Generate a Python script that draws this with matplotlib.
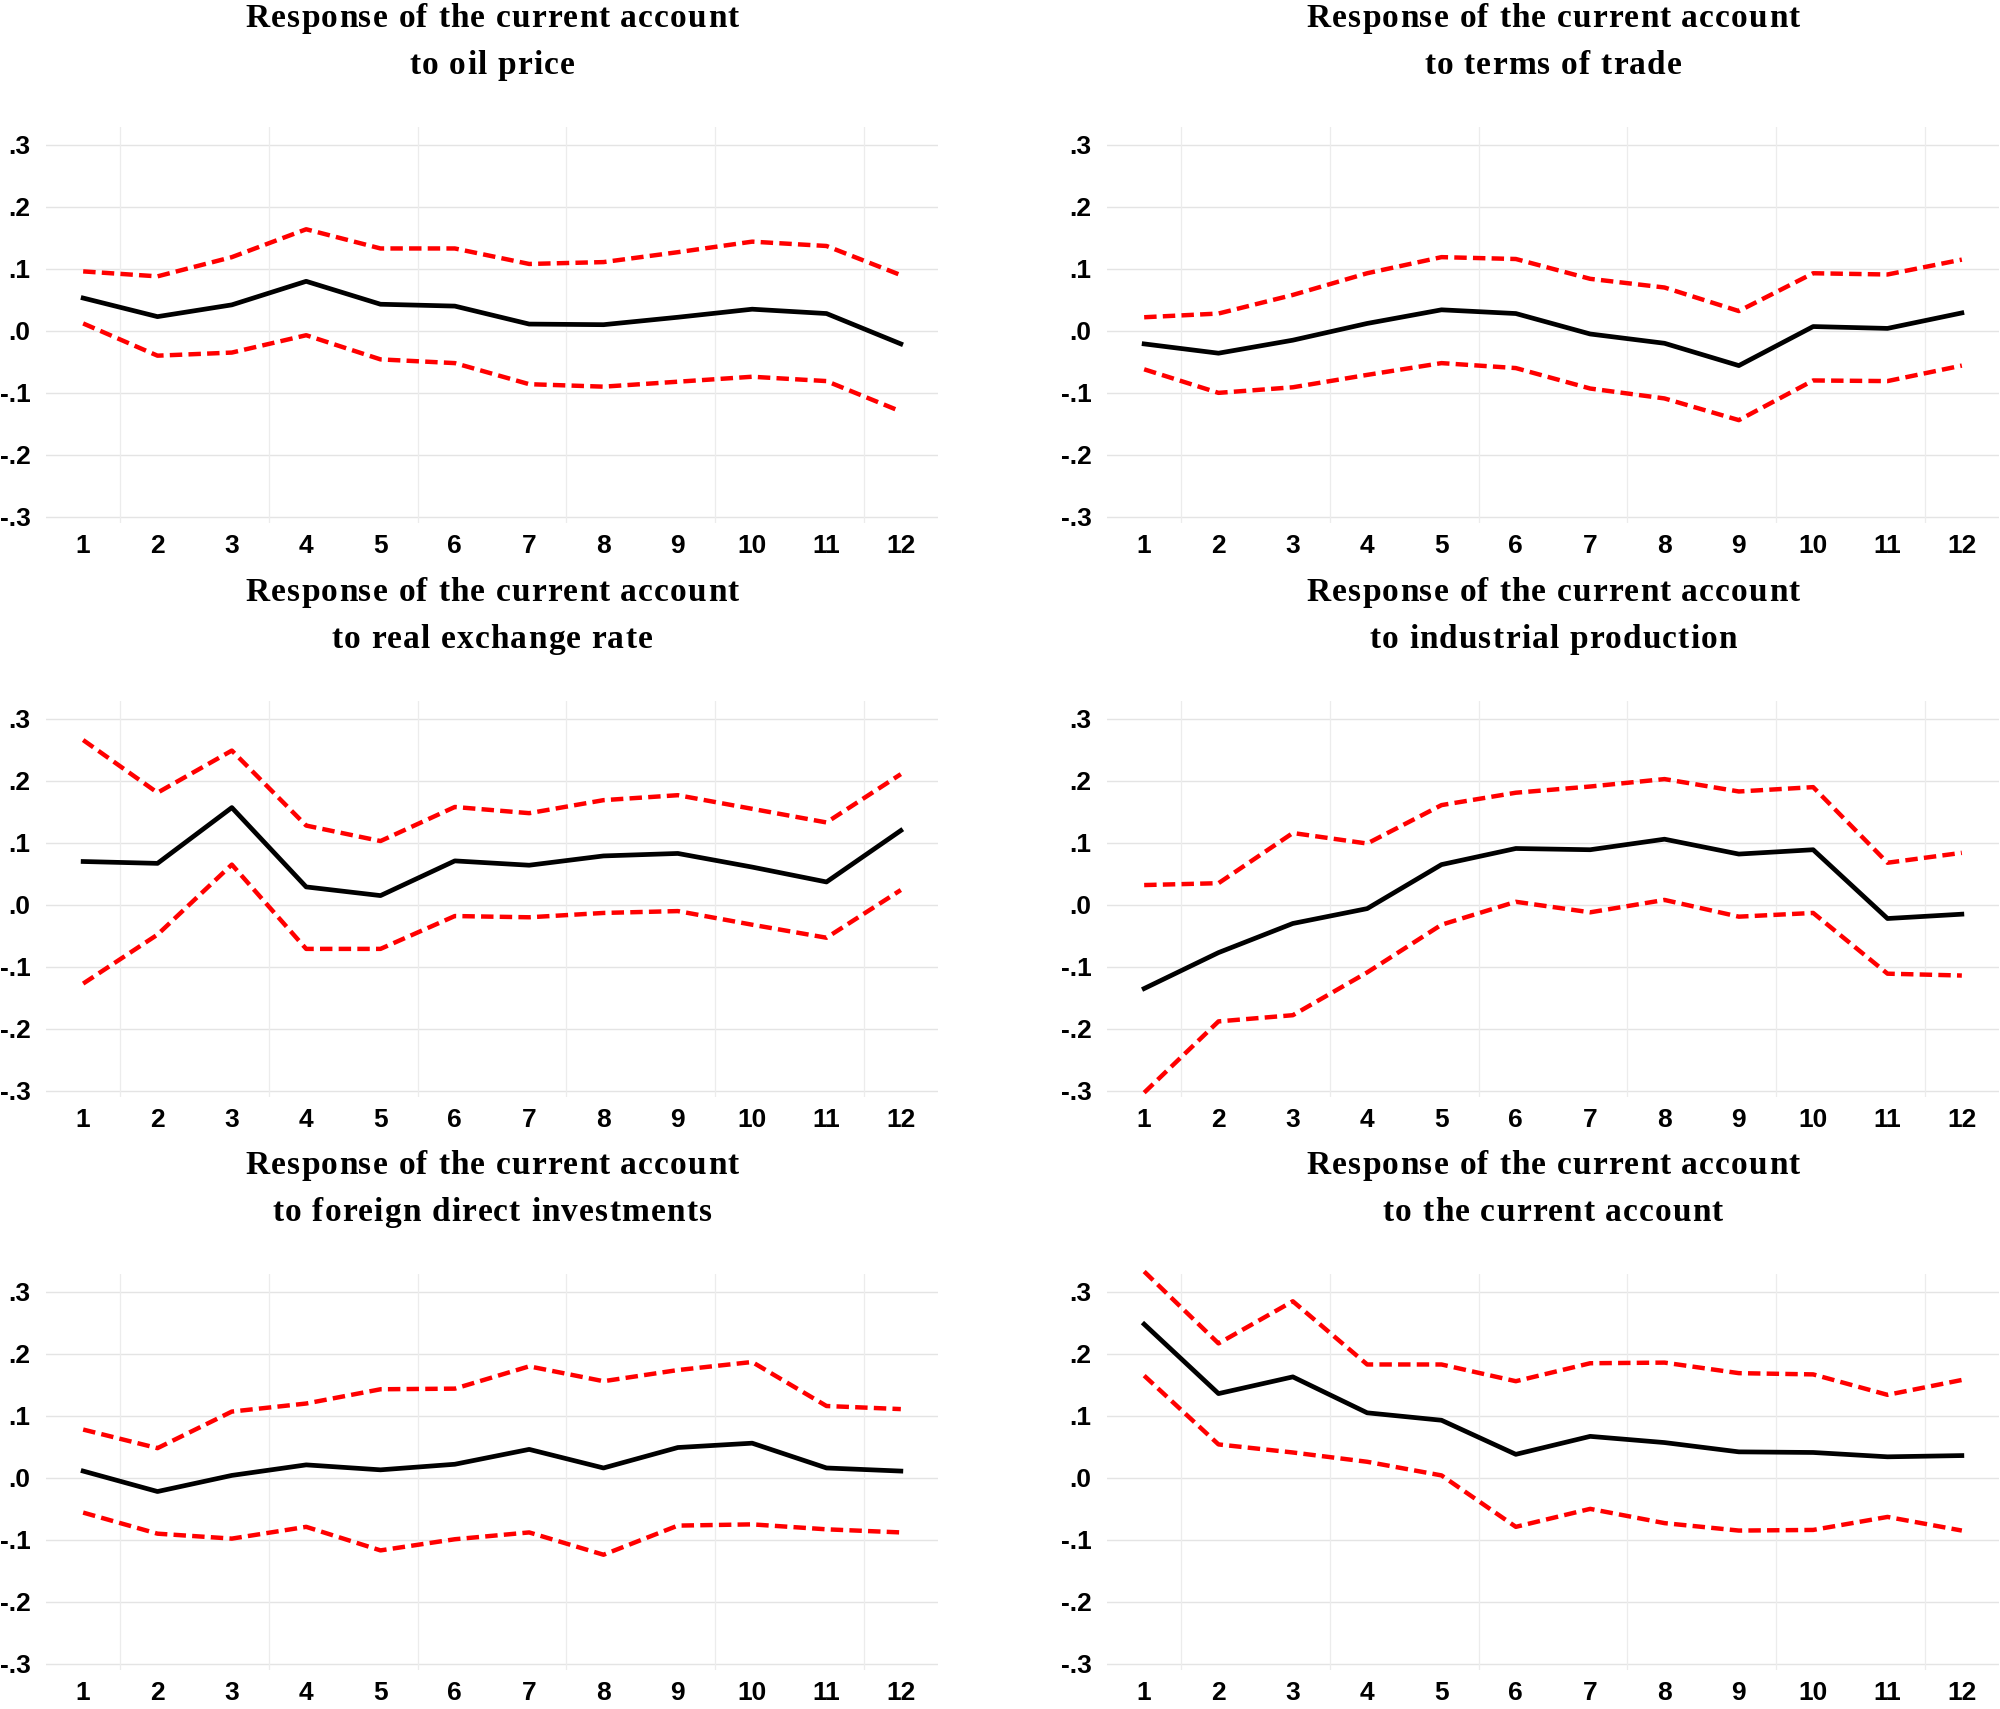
import matplotlib
matplotlib.use("Agg")
import matplotlib.pyplot as plt
from matplotlib.font_manager import FontProperties

# horizon (periods)
periods = list(range(1, 13))

titles = [
    ("Response of the current account", "to oil price"),
    ("Response of the current account", "to terms of trade"),
    ("Response of the current account", "to real exchange rate"),
    ("Response of the current account", "to industrial production"),
    ("Response of the current account", "to foreign direct investments"),
    ("Response of the current account", "to the current account"),
]

# point responses
resp_oil = [0.053, 0.023, 0.042, 0.080, 0.043, 0.040, 0.011, 0.010, 0.022, 0.035, 0.028, -0.021]
resp_tot = [-0.021, -0.036, -0.015, 0.012, 0.034, 0.028, -0.005, -0.020, -0.056, 0.007, 0.004, 0.029]
resp_rer = [0.070, 0.067, 0.157, 0.029, 0.015, 0.071, 0.064, 0.079, 0.083, 0.061, 0.037, 0.120]
resp_ip = [-0.135, -0.077, -0.030, -0.006, 0.065, 0.091, 0.089, 0.106, 0.082, 0.089, -0.022, -0.015]
resp_fdi = [0.011, -0.022, 0.004, 0.021, 0.013, 0.022, 0.046, 0.016, 0.049, 0.056, 0.016, 0.011]
resp_ca = [0.248, 0.136, 0.163, 0.105, 0.093, 0.038, 0.067, 0.057, 0.042, 0.041, 0.034, 0.036]

# upper bands
up_oil = [0.096, 0.088, 0.119, 0.164, 0.133, 0.133, 0.108, 0.111, 0.127, 0.144, 0.137, 0.090]
up_tot = [0.022, 0.028, 0.058, 0.093, 0.119, 0.116, 0.084, 0.070, 0.032, 0.093, 0.091, 0.115]
up_rer = [0.266, 0.181, 0.249, 0.128, 0.103, 0.158, 0.148, 0.169, 0.177, 0.155, 0.133, 0.211]
up_ip = [0.032, 0.035, 0.116, 0.099, 0.161, 0.181, 0.191, 0.203, 0.183, 0.190, 0.068, 0.084]
up_fdi = [0.078, 0.048, 0.107, 0.120, 0.143, 0.144, 0.180, 0.156, 0.174, 0.187, 0.116, 0.111]
up_ca = [0.333, 0.217, 0.285, 0.183, 0.183, 0.156, 0.185, 0.186, 0.169, 0.167, 0.134, 0.158]

# lower bands
lo_oil = [0.012, -0.040, -0.035, -0.007, -0.046, -0.052, -0.086, -0.090, -0.082, -0.074, -0.081, -0.130]
lo_tot = [-0.062, -0.100, -0.091, -0.071, -0.052, -0.060, -0.093, -0.109, -0.144, -0.080, -0.081, -0.056]
lo_rer = [-0.127, -0.048, 0.065, -0.071, -0.071, -0.018, -0.020, -0.013, -0.010, -0.032, -0.053, 0.024]
lo_ip = [-0.303, -0.188, -0.178, -0.109, -0.032, 0.005, -0.012, 0.008, -0.019, -0.013, -0.111, -0.114]
lo_fdi = [-0.056, -0.090, -0.098, -0.079, -0.117, -0.099, -0.088, -0.124, -0.077, -0.075, -0.083, -0.088]
lo_ca = [0.165, 0.054, 0.041, 0.026, 0.004, -0.079, -0.050, -0.073, -0.085, -0.084, -0.063, -0.085]

responses = [resp_oil, resp_tot, resp_rer, resp_ip, resp_fdi, resp_ca]
uppers = [up_oil, up_tot, up_rer, up_ip, up_fdi, up_ca]
lowers = [lo_oil, lo_tot, lo_rer, lo_ip, lo_fdi, lo_ca]

yticks = [-0.3, -0.2, -0.1, 0.0, 0.1, 0.2, 0.3]
ytick_labels = ["-.3", "-.2", "-.1", ".0", ".1", ".2", ".3"]
vgrid = [1.5, 3.5, 5.5, 7.5, 9.5, 11.5]

W, H = 2000, 1709
fig = plt.figure(figsize=(W / 100, H / 100), dpi=100)
renderer = fig.canvas.get_renderer()

col_left = [46, 1107]
col_width = 892
row_top = [127, 701, 1274]
row_height = 396

tick_font = dict(family=["Liberation Sans", "DejaVu Sans"], weight="bold", size=19)
title_prop = FontProperties(family=["Liberation Serif", "DejaVu Serif"], weight="bold", size=24)
TRACK = 1.2  # extra px between letters, the titles are letter-spaced


def spaced_title(ax, text, rise_px):
    # draw text char by char with a little extra tracking, centred on the axes
    widths = [renderer.get_text_width_height_descent(text[:k], title_prop, ismath=False)[0]
              if k else 0.0 for k in range(len(text) + 1)]
    total = widths[-1] + TRACK * (len(text) - 1)
    start = -total / 2
    for k, ch in enumerate(text):
        if ch == " ":
            continue
        dx = start + widths[k] + TRACK * k
        ax.annotate(ch, xy=(0.5, 1), xycoords="axes fraction",
                    xytext=(dx * 0.72, rise_px * 0.72), textcoords="offset points",
                    ha="left", va="baseline", fontproperties=title_prop)


for i in range(6):
    r, c = divmod(i, 2)
    x0 = col_left[c] / W
    y0 = 1 - (row_top[r] + row_height) / H
    ax = fig.add_axes([x0, y0, col_width / W, row_height / H])

    ax.set_xlim(0.5, 12.5)
    ax.set_ylim(-0.31, 0.329)
    for s in ax.spines.values():
        s.set_visible(False)

    for g in yticks:
        ax.axhline(g, color="#e4e4e4", lw=1.0, zorder=0)
    for g in vgrid:
        ax.axvline(g, color="#ececec", lw=0.9, zorder=0)

    ax.plot(periods, uppers[i], color="#ff0000", lw=3.2,
            linestyle=(0, (2.8, 1.4)), clip_on=False, zorder=3)
    ax.plot(periods, lowers[i], color="#ff0000", lw=3.2,
            linestyle=(0, (2.8, 1.4)), clip_on=False, zorder=3)
    ax.plot(periods, responses[i], color="black", lw=3.4,
            clip_on=False, zorder=4)

    ax.set_xticks(periods)
    ax.set_xticklabels([str(p) for p in periods], **tick_font)
    ax.set_yticks(yticks)
    ax.set_yticklabels(ytick_labels, **tick_font)
    ax.tick_params(axis="both", length=0)
    ax.tick_params(axis="x", pad=8)
    ax.tick_params(axis="y", pad=11)

    line1, line2 = titles[i]
    spaced_title(ax, line1, row_top[0] - 27)
    spaced_title(ax, line2, row_top[0] - 74)

fig.savefig("out.png", dpi=100)
plt.close(fig)
